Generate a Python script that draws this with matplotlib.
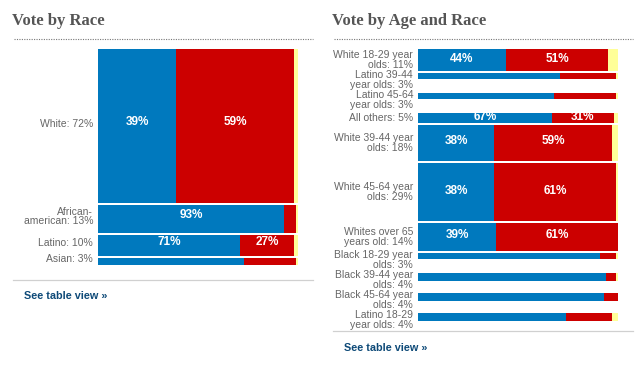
import matplotlib.pyplot as plt
from matplotlib.lines import Line2D

W, H = 636, 376

BLUE = "#0079BE"
RED = "#CC0000"
YELLOW = "#FFFF99"
LABEL_GRAY = "#666666"
TITLE_GRAY = "#555555"
LINK_BLUE = "#0E4A78"

# Vote by race: share of electorate, Obama %, McCain %
race_labels = ["White: 72%", "African-\namerican: 13%", "Latino: 10%", "Asian: 3%"]
race_share = [72, 13, 10, 3]
race_dem = [39, 93, 71, 73]
race_rep = [59, 6, 27, 26]

# Vote by age and race
age_labels = [
    "White 18-29 year\nolds: 11%",
    "Latino 39-44\nyear olds: 3%",
    "Latino 45-64\nyear olds: 3%",
    "All others: 5%",
    "White 39-44 year\nolds: 18%",
    "White 45-64 year\nolds: 29%",
    "Whites over 65\nyears old: 14%",
    "Black 18-29 year\nolds: 3%",
    "Black 39-44 year\nolds: 4%",
    "Black 45-64 year\nolds: 4%",
    "Latino 18-29\nyear olds: 4%",
]
age_share = [11, 3, 3, 5, 18, 29, 14, 3, 4, 4, 4]
age_dem = [44, 71, 68, 67, 38, 38, 39, 91, 94, 93, 74]
age_rep = [51, 28, 31, 31, 59, 61, 61, 8, 5, 7, 23]

plt.rcParams["font.family"] = ["Liberation Sans", "DejaVu Sans"]


def layout(shares, labels, px_per_pct, top, gap=2):
    # rows grow to fit their label when the bar is thinner than the text
    tops, heights, label_y = [], [], []
    y = top
    for s, lab in zip(shares, labels):
        h = s * px_per_pct
        n_lines = lab.count("\n") + 1
        tops.append(y)
        heights.append(h)
        label_y.append(y + max(h, 7 * n_lines) / 2)
        y += max(h, 8 * n_lines + 2) + gap
    return tops, heights, label_y


def draw_panel(fig, x0, labels, shares, dem, rep, px_per_pct, shift=0.0):
    ax = fig.add_axes([(x0 + 98) / W, 0, 200 / W, 1])
    ax.set_xlim(0, 100)
    ax.set_ylim(H, 0)
    ax.axis("off")

    tops, heights, label_y = layout(shares, labels, px_per_pct, top=49)
    centers = [t + h / 2 for t, h in zip(tops, heights)]
    other = [100 - d - r for d, r in zip(dem, rep)]
    left_other = [d + r for d, r in zip(dem, rep)]

    ax.barh(centers, dem, height=heights, left=0, color=BLUE, linewidth=0)
    ax.barh(centers, rep, height=heights, left=dem, color=RED, linewidth=0)
    ax.barh(centers, other, height=heights, left=left_other, color=YELLOW, linewidth=0)

    for c, ly, h, lab, d, r in zip(centers, label_y, heights, labels, dem, rep):
        ax.text(-2.5, ly + shift, lab, ha="right", va="center", fontsize=7.5,
                color=LABEL_GRAY, linespacing=0.92)
        if h >= 9.5:
            if d >= 20:
                ax.text(d / 2, c - 1.5 + shift, f"{d}%", ha="center", va="center",
                        fontsize=8.5, fontweight="bold", color="white")
            if r >= 20:
                ax.text(d + r / 2, c - 1.5 + shift, f"{r}%", ha="center", va="center",
                        fontsize=8.5, fontweight="bold", color="white")
    return ax


fig = plt.figure(figsize=(W / 100, H / 100), dpi=100)

bg = fig.add_axes([0, 0, 1, 1])
bg.set_xlim(0, W)
bg.set_ylim(H, 0)
bg.axis("off")

for x0, title, sep_y, link_y in [(0, "Vote by Race", 279.5, 296),
                                 (320, "Vote by Age and Race", 330.5, 348)]:
    bg.text(x0 + 12, 25, title, ha="left", va="baseline", fontsize=12,
            fontweight="bold", color=TITLE_GRAY,
            family=["Liberation Serif", "DejaVu Serif"])
    bg.add_line(Line2D([x0 + 14, x0 + 313], [38.5, 38.5], color="#777777",
                       linewidth=0.8, linestyle=(0, (1, 1.2))))
    bg.add_line(Line2D([x0 + 13, x0 + 313], [sep_y, sep_y], color="#D0D0D0",
                       linewidth=0.9))
    bg.text(x0 + 24, link_y, "See table view \u00bb", ha="left", va="center",
            fontsize=7.8, fontweight="bold", color=LINK_BLUE)

draw_panel(fig, 0, race_labels, race_share, race_dem, race_rep, 2.14, shift=-2.5)
draw_panel(fig, 320, age_labels, age_share, age_dem, age_rep, 2.0)

fig.savefig("out.png", dpi=100)
